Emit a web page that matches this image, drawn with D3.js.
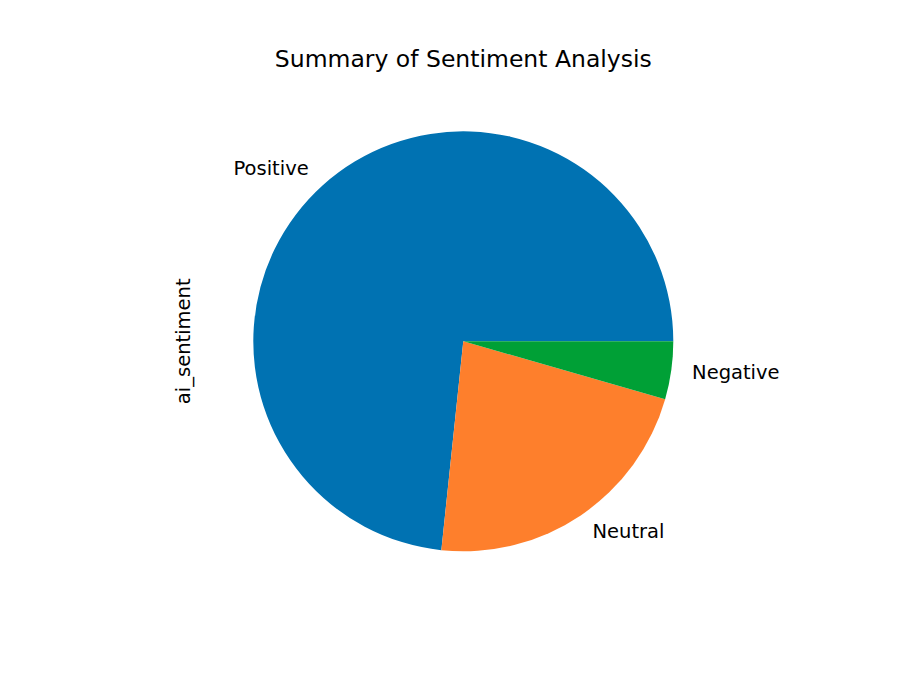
<!DOCTYPE html>
<html>
<head>
<meta charset="utf-8">
<script src="https://cdn.jsdelivr.net/npm/d3@7"></script>
<style>
  body { margin: 0; background: #fff; }
  text { font-family: "DejaVu Sans", sans-serif; fill: #000; }
</style>
</head>
<body>
<div class="chart"></div>
<script>
// Pie chart of sentiment counts (matplotlib-style, starts at 3 o'clock, counterclockwise)

var categories = ["Positive", "Neutral", "Negative"];
var counts = [33, 10, 2];
var colors = ["#0072b2", "#fe7f2c", "#00a036"];

var width = 902, height = 674;
var cx = 463.3, cy = 341.3, radius = 210;

var svg = d3.select(".chart").append("svg")
    .attr("width", width)
    .attr("height", height);

var pie = d3.pie()
    .sort(null)
    .value(function(d) { return d; })
    .startAngle(Math.PI / 2)
    .endAngle(Math.PI / 2 - 2 * Math.PI);

var arc = d3.arc().innerRadius(0).outerRadius(radius);

var arcs = pie(counts);

var g = svg.append("g").attr("transform", "translate(" + cx + "," + cy + ")");

g.selectAll("path")
    .data(arcs)
    .enter().append("path")
    .attr("d", arc)
    .style("fill", function(d, i) { return colors[i]; });

// labels at 1.1 * radius, like matplotlib's labeldistance
g.selectAll("text.label")
    .data(arcs)
    .enter().append("text")
    .attr("class", "label")
    .text(function(d, i) { return categories[i]; })
    .attr("x", function(d) { return Math.sin((d.startAngle + d.endAngle) / 2) * radius * 1.1; })
    .attr("y", function(d) { return -Math.cos((d.startAngle + d.endAngle) / 2) * radius * 1.1 - 1; })
    .attr("text-anchor", function(d) { return Math.sin((d.startAngle + d.endAngle) / 2) < 0 ? "end" : "start"; })
    .attr("dominant-baseline", "central")
    .style("font-size", "19.5px");

// Title
svg.append("text")
    .text("Summary of Sentiment Analysis")
    .attr("x", cx)
    .attr("y", 67)
    .attr("text-anchor", "middle")
    .style("font-size", "23.5px");

// Y label
svg.append("text")
    .text("ai_sentiment")
    .attr("transform", "translate(190," + cy + ") rotate(-90)")
    .attr("text-anchor", "middle")
    .style("font-size", "19.5px");
</script>
</body>
</html>
